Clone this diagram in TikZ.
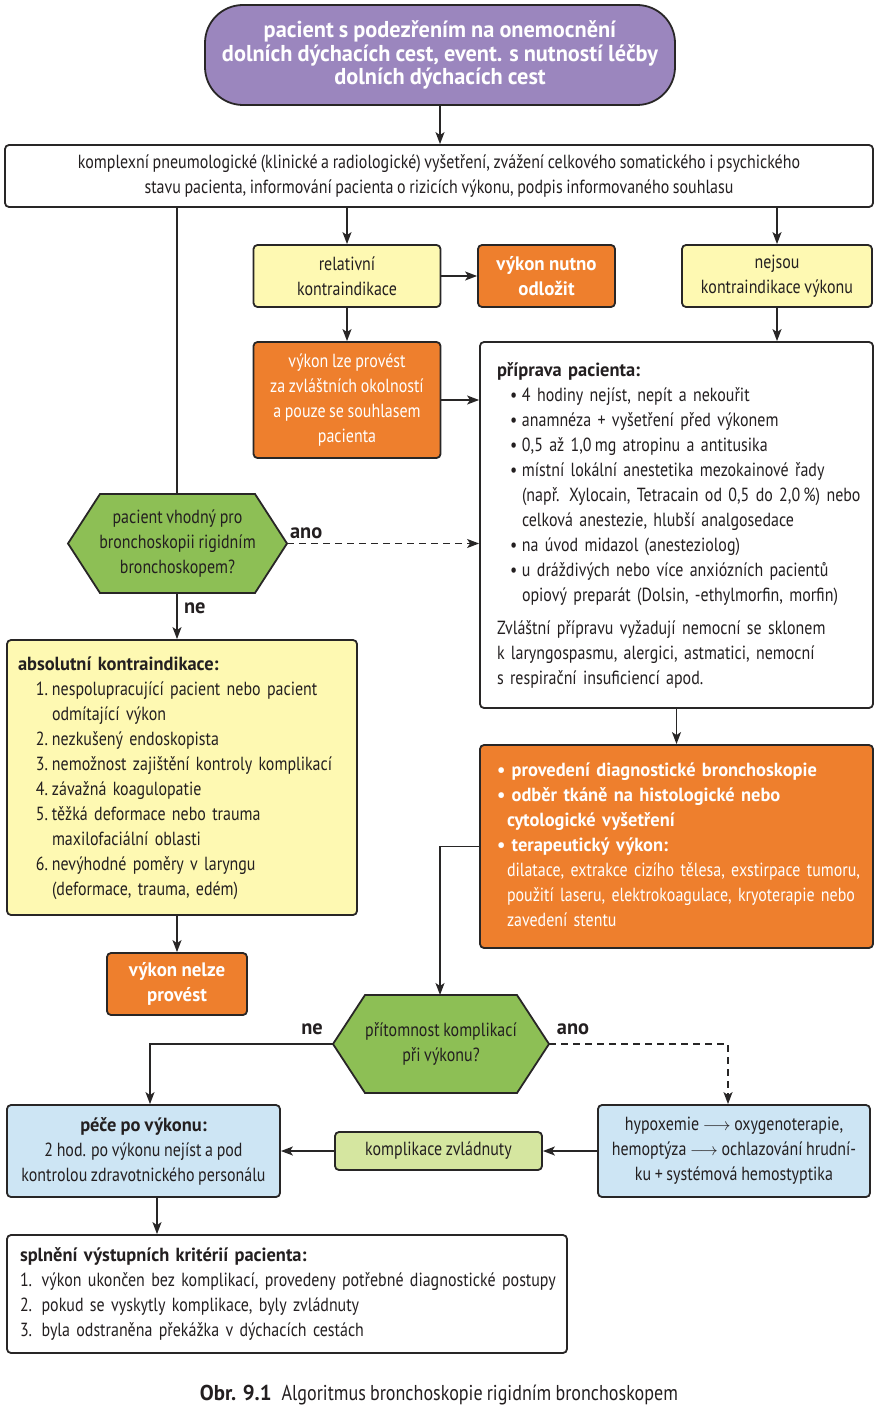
\documentclass[tikz,border=0pt]{standalone}
\usepackage{fontspec}
\setmainfont{PT Sans}[FakeStretch=0.84, WordSpace=0.85]
\newfontfamily\bsf{PT Sans}[FakeStretch=0.97, WordSpace=0.9]
\newcommand{\bfx}{\bsf\bfseries}
\usetikzlibrary{arrows.meta}
\definecolor{cpurple}{RGB}{155,134,190}
\definecolor{cyellow}{RGB}{254,249,178}
\definecolor{corange}{RGB}{238,127,45}
\definecolor{cgreen}{RGB}{141,191,85}
\definecolor{cblue}{RGB}{205,229,244}
\definecolor{clgreen}{RGB}{213,230,160}
\definecolor{cborder}{RGB}{40,38,38}
\definecolor{ctext}{RGB}{35,31,32}
\newcommand{\bitem}{\hspace*{13pt}\makebox[12pt][l]{•}}
\newcommand{\bcont}{\hspace*{25pt}}
\newcommand{\nitem}[1]{\hspace*{17pt}\makebox[13pt][r]{#1}\hspace*{4pt}}
\newcommand{\ncont}{\hspace*{34pt}}
\begin{document}
\begin{tikzpicture}[x=1pt,y=-1pt,
  box/.style={draw=cborder, line width=1.8pt, rounded corners=4pt, inner sep=0pt, align=center,
    text=ctext, font=\fontsize{19}{25}\selectfont},
  orbox/.style={box, fill=corange, text=white},
  ybox/.style={box, fill=cyellow},
  hexa/.style={draw=cborder, line width=1.8pt, fill=cgreen, line join=miter},
  conn/.style={draw=cborder, line width=1.5pt, -{Stealth[length=12pt,width=9pt,inset=3pt]}},
  dconn/.style={conn, dash pattern=on 7pt off 5pt},
  lbl/.style={font=\fontsize{21}{22}\selectfont\bfx, text=ctext}
]
\useasboundingbox (0,0) rectangle (878,1415);

% top
\node[box, fill=cpurple, text=white, rounded corners=38pt, minimum width=470pt, minimum height=100pt,
  font=\fontsize{23}{23.5}\selectfont\bfx] (top) at (440,55)
  {pacient s podezřením na onemocnění\\dolních dýchacích cest, event. s nutností léčby\\dolních dýchacích cest};

\node[box, fill=white, minimum width=868pt, minimum height=62pt] (exam) at (439,176)
  {komplexní pneumologické (klinické a radiologické) vyšetření, zvážení celkového somatického i psychického\\stavu pacienta, informování pacienta o rizicích výkonu, podpis informovaného souhlasu};

\node[ybox, minimum width=187pt, minimum height=62pt] (rel) at (347,276) {relativní\\kontraindikace};
\node[orbox, minimum width=137pt, minimum height=62pt, font=\fontsize{19.5}{25}\selectfont\bfx] (odl) at (546.5,276) {výkon nutno\\odložit};
\node[ybox, minimum width=190pt, minimum height=62pt] (nej) at (777,276) {nejsou\\kontraindikace výkonu};

\node[orbox, minimum width=187pt, minimum height=116pt] (lze) at (347,400)
  {výkon lze provést\\za zvláštních okolností\\a pouze se souhlasem\\pacienta};

\node[box, fill=white, align=left, text width=359pt, inner xsep=17pt, minimum height=366pt] (pri) at (676.5,525)
  {\begin{tabular}{@{}l@{}}
   {\bfx příprava pacienta:}\\
   \bitem 4 hodiny nejíst, nepít a nekouřit\\
   \bitem anamnéza + vyšetření před výkonem\\
   \bitem 0,5 až 1,0\,mg atropinu a antitusika\\
   \bitem místní lokální anestetika mezokainové řady\\
   \bcont (např. Xylocain, Tetracain od 0,5 do 2,0\,\%) nebo\\
   \bcont celková anestezie, hlubší analgosedace\\
   \bitem na úvod midazol (anesteziolog)\\
   \bitem u dráždivých nebo více anxiózních pacientů\\
   \bcont opiový preparát (Dolsin, -ethylmorfin, morfin)\\[8pt]
   Zvláštní přípravu vyžadují nemocní se sklonem\\
   k laryngospasmu, alergici, astmatici, nemocní\\
   s respirační insuficiencí apod.
   \end{tabular}};

% hexagon A
\coordinate (hAw) at (68,543.5);
\coordinate (hAe) at (287,543.5);
\coordinate (hAn) at (177,494);
\coordinate (hAs) at (177,593);
\filldraw[hexa] (hAw) -- (100,494) -- (255,494) -- (hAe) -- (255,593) -- (100,593) -- cycle;
\node[align=center, text=ctext, font=\fontsize{19}{25}\selectfont] (hexA) at (177.5,543.5)
  {pacient vhodný pro\\bronchoskopii rigidním\\bronchoskopem?};

\node[ybox, align=left, text width=328pt, inner xsep=11pt, minimum height=275pt] (abs) at (182,777.5)
  {\begin{tabular}{@{}l@{}}
   {\bfx absolutní kontraindikace:}\\
   \nitem{1.}nespolupracující pacient nebo pacient\\
   \ncont odmítající výkon\\
   \nitem{2.}nezkušený endoskopista\\
   \nitem{3.}nemožnost zajištění kontroly komplikací\\
   \nitem{4.}závažná koagulopatie\\
   \nitem{5.}těžká deformace nebo trauma\\
   \ncont maxilofaciální oblasti\\
   \nitem{6.}nevýhodné poměry v laryngu\\
   \ncont (deformace, trauma, edém)
   \end{tabular}};

\node[orbox, minimum width=140pt, minimum height=62pt, font=\fontsize{19.5}{25}\selectfont\bfx] (nelze) at (177,984) {výkon nelze\\provést};

\node[orbox, align=left, text width=359pt, inner xsep=17pt, minimum height=203pt] (prov) at (676.5,846.5)
  {\begin{tabular}{@{}l@{}}
   {\bfx • provedení diagnostické bronchoskopie}\\
   {\bfx • odběr tkáně na histologické nebo}\\
   \hspace*{10pt}{\bfx cytologické vyšetření}\\
   {\bfx • terapeutický výkon:}\\
   \hspace*{10pt}dilatace, extrakce cizího tělesa, exstirpace tumoru,\\
   \hspace*{10pt}použití laseru, elektrokoagulace, kryoterapie nebo\\
   \hspace*{10pt}zavedení stentu
   \end{tabular}};

% hexagon B
\coordinate (hBw) at (333,1044);
\coordinate (hBe) at (549,1044);
\coordinate (hBn) at (440,995);
\filldraw[hexa] (hBw) -- (365,995) -- (517,995) -- (hBe) -- (517,1093) -- (365,1093) -- cycle;
\node[align=center, text=ctext, font=\fontsize{19}{25}\selectfont] (hexB) at (441,1044)
  {přítomnost komplikací\\při výkonu?};

\node[box, fill=cblue, minimum width=273pt, minimum height=92pt] (pece) at (143.5,1151)
  {{\bfx péče po výkonu:}\\2 hod. po výkonu nejíst a pod\\kontrolou zdravotnického personálu};
\node[box, fill=cblue, minimum width=272pt, minimum height=92pt] (hyp) at (734,1151)
  {hypoxemie $\longrightarrow$ oxygenoterapie,\\hemoptýza $\longrightarrow$ ochlazování hrudní-\\ku + systémová hemostyptika};
\node[box, fill=clgreen, minimum width=207pt, minimum height=38pt] (zvl) at (438.5,1151) {komplikace zvládnuty};

\node[box, fill=white, align=left, text width=534pt, inner xsep=13pt, minimum height=118pt] (spl) at (287,1294)
  {\begin{tabular}{@{}l@{}}
   {\bfx splnění výstupních kritérií pacienta:}\\
   1. výkon ukončen bez komplikací, provedeny potřebné diagnostické postupy\\
   2. pokud se vyskytly komplikace, byly zvládnuty\\
   3. byla odstraněna překážka v dýchacích cestách
   \end{tabular}};

\node[text=ctext, font=\fontsize{21.5}{24}\selectfont] (cap) at (439,1395)
  {{\bfx Obr. 9.1}\hspace{10pt}Algoritmus bronchoskopie rigidním bronchoskopem};

% connectors
\coordinate (xl) at (177,0);
\coordinate (xpece) at (150,0);
\coordinate (xpece2) at (157,0);
\coordinate (xhyp) at (728,0);
\draw[conn] (top.south) -- (top.south |- exam.north);
\draw[line width=1.5pt, draw=cborder] (exam.south -| xl) -- (hAn);
\draw[conn] (exam.south -| rel.north) -- (rel.north);
\draw[conn] (exam.south -| nej.north) -- (nej.north);
\draw[conn] (rel.east) -- (odl.west);
\draw[conn] (rel.south) -- (lze.north);
\draw[conn] (nej.south) -- (nej.south |- pri.north);
\draw[conn] (lze.east) -- (lze.east -| pri.west);
\draw[dconn] (hAe) -- (hAe -| pri.west) node[lbl, pos=0.1, above, yshift=1pt] (ano1) {ano};
\draw[conn] (hAs) -- (abs.north -| hAs) node[lbl, pos=0.32, right, xshift=3pt] (ne1) {ne};
\draw[conn] (abs.south -| nelze.north) -- (nelze.north);
\draw[conn] (pri.south -| prov.north) -- (prov.north);
\draw[conn] (prov.west) -| (hBn);
\draw[conn] (hBw) -| (pece.north -| xpece);
\draw[dconn] (hBe) -| (hyp.north -| xhyp);
\node[lbl] (ne2) at (312,1029) {ne};
\node[lbl] (ano2) at (573,1029) {ano};
\draw[conn] (hyp.west) -- (zvl.east);
\draw[conn] (zvl.west) -- (pece.east);
\draw[conn] (pece.south -| xpece2) -- (spl.north -| xpece2);
\end{tikzpicture}
\end{document}
